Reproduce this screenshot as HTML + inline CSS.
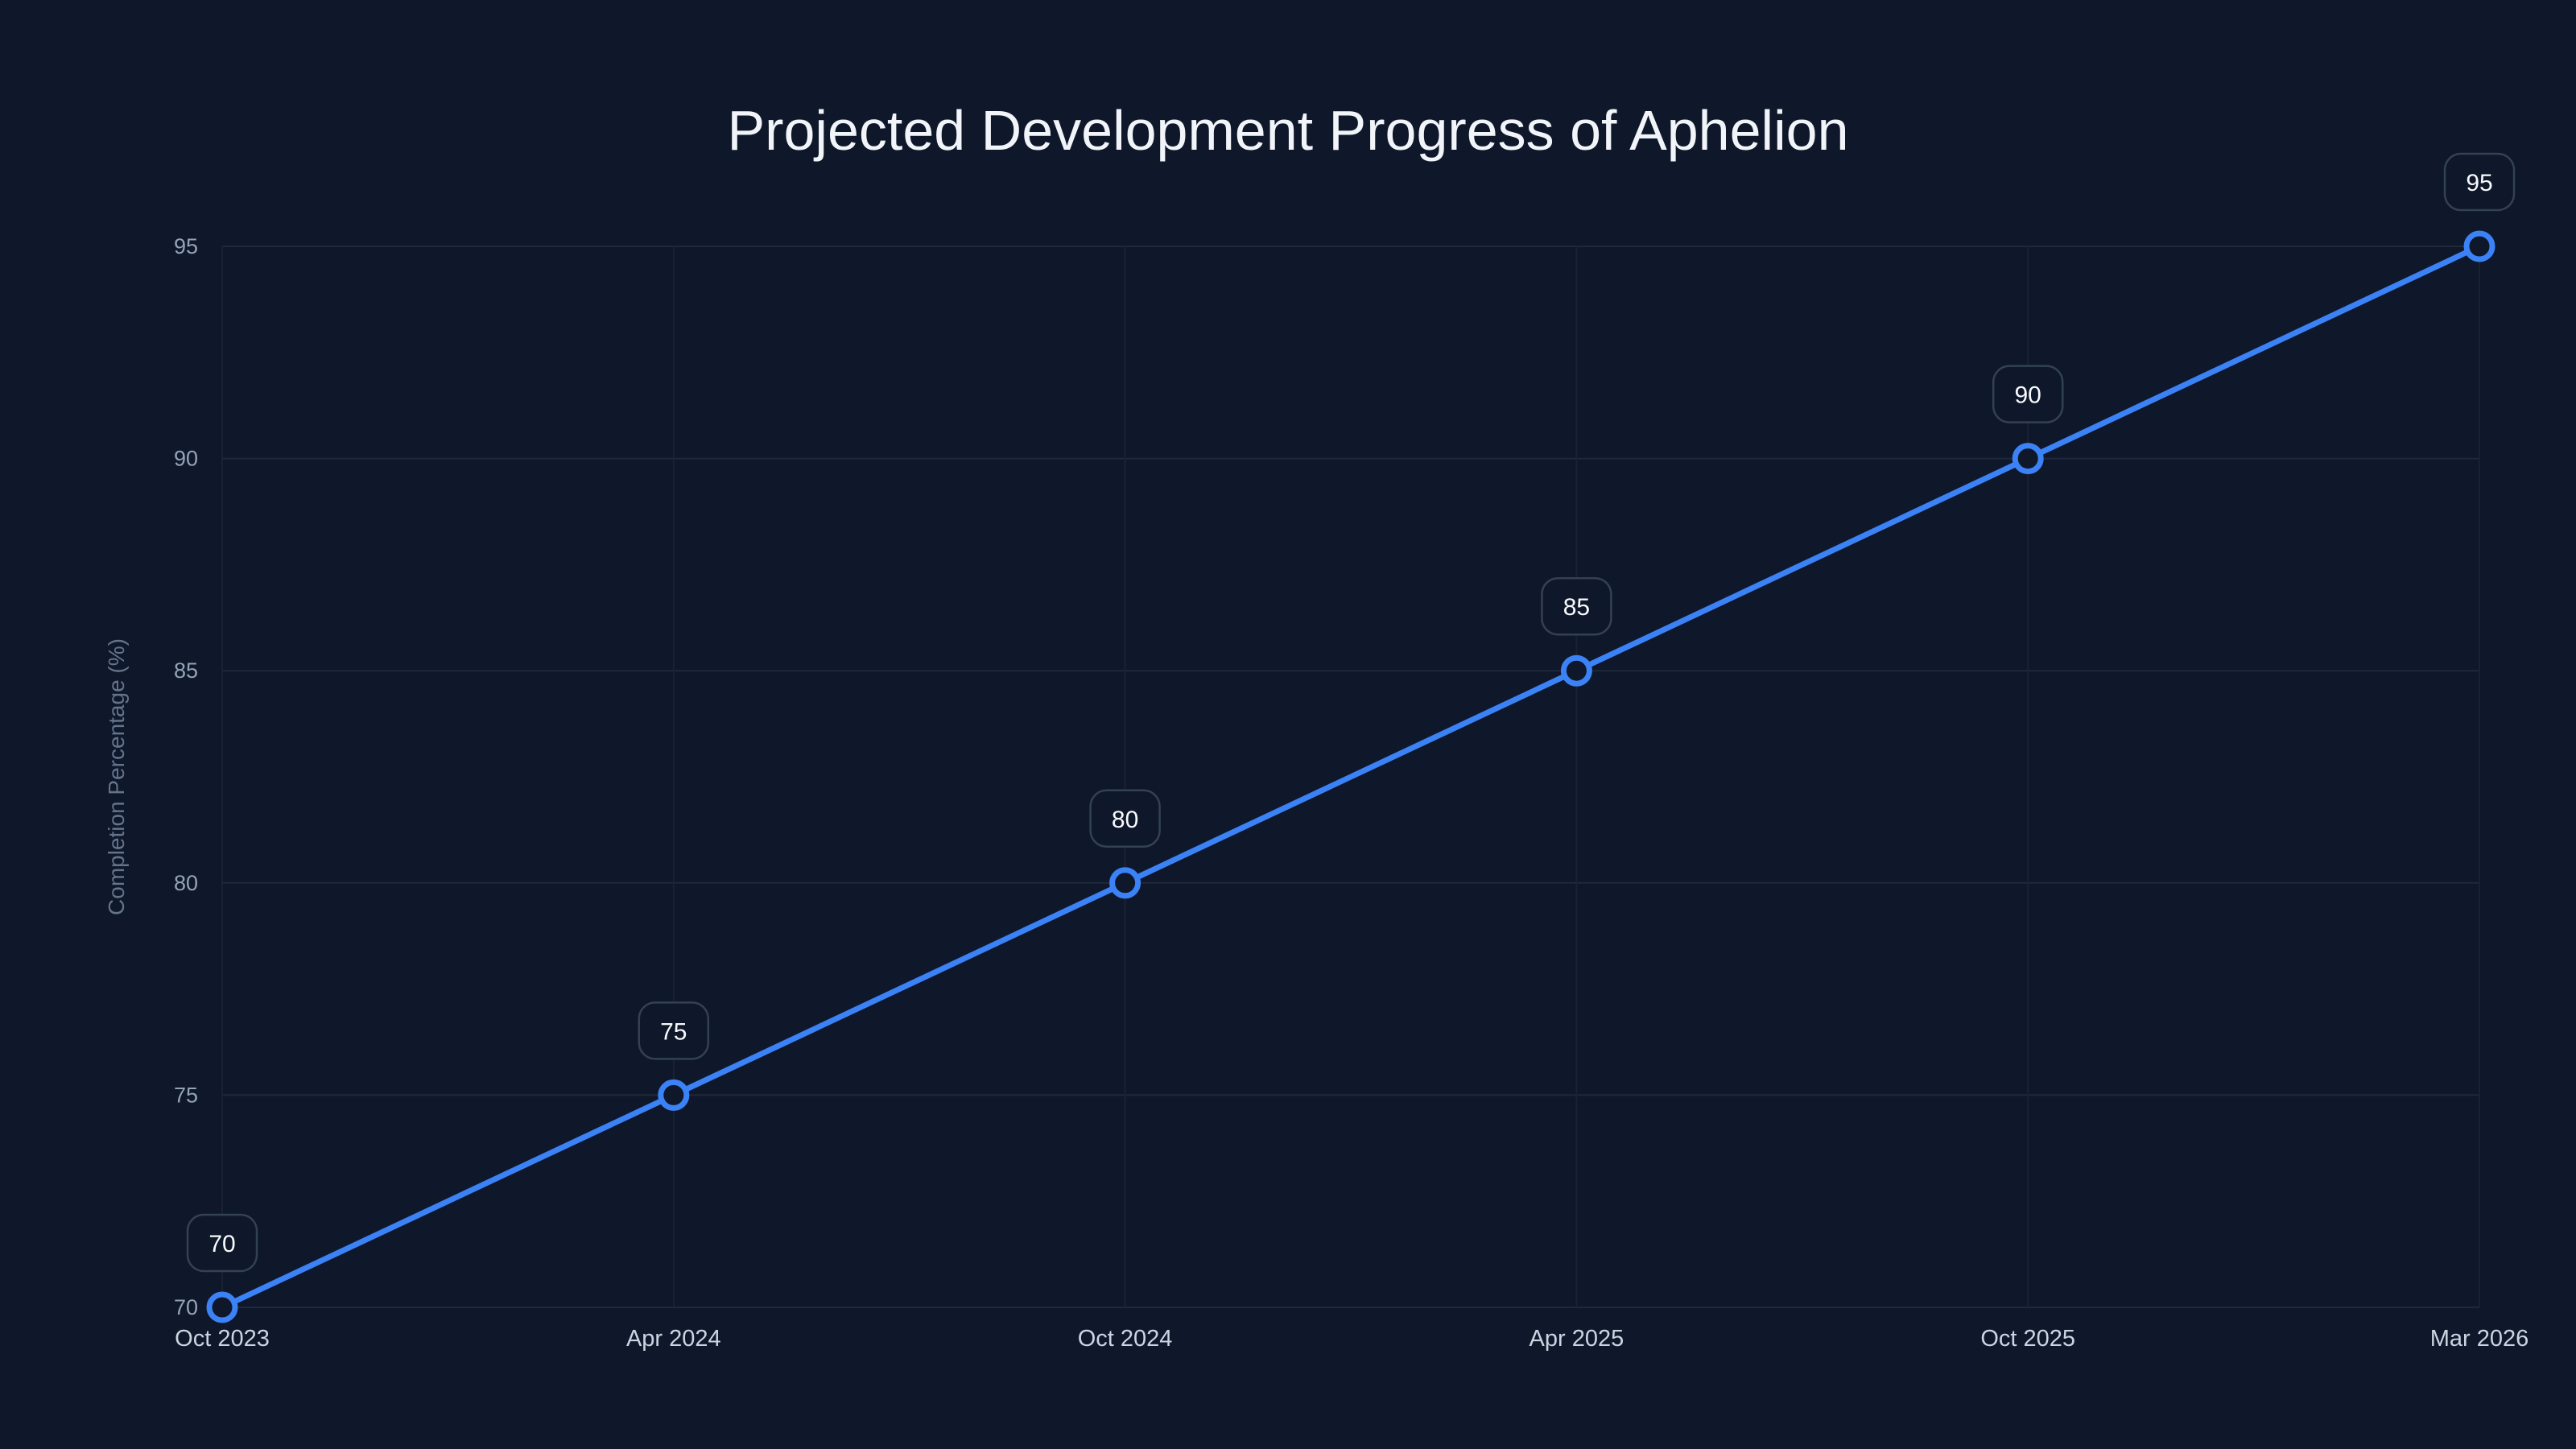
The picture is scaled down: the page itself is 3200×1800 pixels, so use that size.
<!DOCTYPE html>
<html><head><meta charset="utf-8"><style>
html,body{margin:0;padding:0;background:#0f172a;}
svg{display:block;font-family:"Liberation Sans",sans-serif;}
</style></head><body>
<svg width="3200" height="1800" viewBox="0 0 3200 1800">
<rect width="3200" height="1800" fill="#0f172a"/>
<text x="1600" y="186" text-anchor="middle" font-size="70" fill="#f1f5f9">Projected Development Progress of Aphelion</text>
<text transform="translate(154,965) rotate(-90)" text-anchor="middle" font-size="28" fill="#64748b">Completion Percentage (%)</text>
<g id="grid"></g><g id="axes"></g><g id="series"></g><g id="labels"></g>
</svg>
<script>
const categories = ["Oct 2023","Apr 2024","Oct 2024","Apr 2025","Oct 2025","Mar 2026"];
const values = [70,75,80,85,90,95];
const yTicks = [70,75,80,85,90,95];
const L=276,R=3080,T=306,B=1624,yMin=70,yMax=95;
const NS="http://www.w3.org/2000/svg";
function xs(i){return L+(R-L)*i/(categories.length-1);}
function ys(v){return B-(B-T)*(v-yMin)/(yMax-yMin);}
function mk(tag,attrs,parent,txt){const e=document.createElementNS(NS,tag);for(const k in attrs)e.setAttribute(k,attrs[k]);if(txt!==undefined)e.textContent=txt;document.getElementById(parent).appendChild(e);return e;}
yTicks.forEach(t=>{
  const g=mk('line',{x1:L,x2:R,y1:ys(t),y2:ys(t),stroke:'#1e293b','stroke-width':2},'grid');
  
  
  const tx=mk('text',{x:246,y:ys(t)+9,'text-anchor':'end','font-size':27,fill:'#94a3b8'},'axes',t);
  
  
});
categories.forEach((c,i)=>{
  const g=mk('line',{x1:xs(i),x2:xs(i),y1:T,y2:B,stroke:'#1a2232','stroke-width':2},'grid');
  
  
  const tx=mk('text',{x:xs(i),y:1672,'text-anchor':'middle','font-size':29,fill:'#cbd5e1'},'axes',c);
  
  
});
const pts=values.map((v,i)=>xs(i)+','+ys(v)).join(' ');
const line=mk('polyline',{points:pts,fill:'none',stroke:'#3b82f6','stroke-width':7,'stroke-linejoin':'round'},'series');


values.forEach((v,i)=>{
  const c=mk('circle',{cx:xs(i),cy:ys(v),r:16,fill:'#0f172a',stroke:'#3b82f6','stroke-width':7},'series');
  
  
  const r=mk('rect',{x:xs(i)-43,y:ys(v)-115,width:86,height:70,rx:20,fill:'#0f172a',stroke:'#334155','stroke-width':2.5},'labels');
  
  
  const t=mk('text',{x:xs(i),y:ys(v)-69,'text-anchor':'middle','font-size':30,fill:'#f8fafc'},'labels',v);
  
  
});
</script>
</body></html>
